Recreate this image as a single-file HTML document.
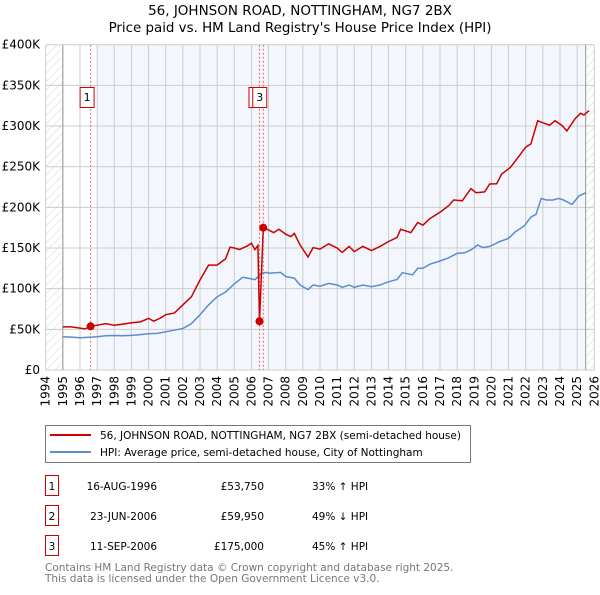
<!DOCTYPE html>
<html><head><meta charset="utf-8"><style>
body{margin:0;background:#fff;}
svg text{font-family:"DejaVu Sans","Liberation Sans",sans-serif;}
</style></head><body>
<svg id="chart" width="600" height="590" viewBox="0 0 600 590" xmlns="http://www.w3.org/2000/svg">
<defs>
<pattern id="hatch" width="6" height="6" patternUnits="userSpaceOnUse" patternTransform="rotate(45)">
<line x1="0" y1="0" x2="0" y2="6" stroke="#d4d4d4" stroke-width="1"/>
</pattern>
</defs>
<text x="300" y="15" text-anchor="middle" font-size="13.5" fill="#000">56, JOHNSON ROAD, NOTTINGHAM, NG7 2BX</text>
<text x="300" y="32" text-anchor="middle" font-size="13.4" fill="#000">Price paid vs. HM Land Registry's House Price Index (HPI)</text>
<g id="plot"></g>
<g id="legend">
<rect x="45.5" y="425.5" width="425" height="37" fill="#fff" stroke="#777"/>
<line x1="50" y1="435" x2="91" y2="435" stroke="#cc0000" stroke-width="2"/>
<text x="100" y="439" font-size="10.5">56, JOHNSON ROAD, NOTTINGHAM, NG7 2BX (semi-detached house)</text>
<line x1="50" y1="452" x2="91" y2="452" stroke="#5b8bd0" stroke-width="2"/>
<text x="100" y="456" font-size="10.5">HPI: Average price, semi-detached house, City of Nottingham</text>
</g>
<g id="table">
<rect x="45.5" y="475.5" width="13" height="20" fill="#fff" stroke="#cc0000"/>
<text x="52" y="490" font-size="10.5" text-anchor="middle">1</text>
<text x="157" y="490" font-size="10.5" text-anchor="end">16-AUG-1996</text>
<text x="264" y="490" font-size="10.5" text-anchor="end">£53,750</text>
<text x="312" y="490" font-size="10.5">33% ↑ HPI</text>
<rect x="45.5" y="505.5" width="13" height="20" fill="#fff" stroke="#cc0000"/>
<text x="52" y="520" font-size="10.5" text-anchor="middle">2</text>
<text x="157" y="520" font-size="10.5" text-anchor="end">23-JUN-2006</text>
<text x="264" y="520" font-size="10.5" text-anchor="end">£59,950</text>
<text x="312" y="520" font-size="10.5">49% ↓ HPI</text>
<rect x="45.5" y="535.5" width="13" height="20" fill="#fff" stroke="#cc0000"/>
<text x="52" y="550" font-size="10.5" text-anchor="middle">3</text>
<text x="157" y="550" font-size="10.5" text-anchor="end">11-SEP-2006</text>
<text x="264" y="550" font-size="10.5" text-anchor="end">£175,000</text>
<text x="312" y="550" font-size="10.5">45% ↑ HPI</text>
</g>
<text x="45" y="571" font-size="10.5" fill="#777">Contains HM Land Registry data © Crown copyright and database right 2025.</text>
<text x="45" y="582" font-size="10.5" fill="#777">This data is licensed under the Open Government Licence v3.0.</text>
</svg>
<script>
const yTicks=[0,50000,100000,150000,200000,250000,300000,350000,400000];
const yTickLabels=["£0","£50K","£100K","£150K","£200K","£250K","£300K","£350K","£400K"];
const xTicks=[1994,1995,1996,1997,1998,1999,2000,2001,2002,2003,2004,2005,2006,2007,2008,2009,2010,2011,2012,2013,2014,2015,2016,2017,2018,2019,2020,2021,2022,2023,2024,2025,2026];
const hpiYears=[1995,1995.5,1996,1996.5,1997,1997.5,1998,1998.5,1999,1999.5,2000,2000.5,2001,2001.5,2002,2002.5,2003,2003.5,2004,2004.5,2005,2005.5,2006,2006.2,2006.6,2006.9,2007,2007.7,2008,2008.5,2008.84,2009.3,2009.6,2010,2010.5,2011,2011.3,2011.7,2012,2012.5,2013,2013.5,2014,2014.5,2014.8,2015.4,2015.7,2016,2016.4,2017,2017.5,2018,2018.4,2018.8,2019.2,2019.5,2019.9,2020.5,2021,2021.4,2021.9,2022.3,2022.6,2022.9,2023.2,2023.6,2023.9,2024.2,2024.7,2025.1,2025.5];
const hpiValues=[41000,40500,39600,40200,40800,42000,42400,42000,42500,43500,44500,45000,47000,49000,51000,57000,68000,80000,90000,96000,106000,114000,112000,111000,119000,120000,119000,120000,115000,113000,104500,98900,104500,103000,106500,104500,101700,104500,101700,104500,102400,104500,108500,111300,119700,117000,125000,125000,130000,134000,138000,143400,144000,147500,153700,150500,152000,158000,162000,170000,177000,188000,191500,211000,209000,209000,211000,209000,203600,214000,218000];
const saleYears=[1996.62,2006.47,2006.69];
const salePrices=[53750,59950,175000];
const saleLabels=["1","2","3"];
const redYears=[1995,1995.5,1996,1996.3,1996.62,1997,1997.5,1998,1998.5,1999,1999.5,2000,2000.3,2000.7,2001,2001.5,2002,2002.5,2003,2003.5,2004,2004.5,2004.75,2005,2005.3,2005.8,2006,2006.2,2006.38,2006.47,2006.69,2007,2007.3,2007.6,2008,2008.3,2008.5,2008.84,2009.3,2009.6,2010,2010.5,2011,2011.3,2011.7,2012,2012.5,2013,2013.5,2014,2014.5,2014.7,2015.3,2015.7,2016,2016.4,2017,2017.5,2017.8,2018.3,2018.8,2019.1,2019.6,2019.9,2020.3,2020.6,2021.1,2021.5,2022,2022.3,2022.7,2023,2023.4,2023.7,2024.1,2024.4,2024.9,2025.2,2025.4,2025.7];
const redValues=[53000,53000,51500,50500,53750,55000,57000,55000,56500,58000,59000,63500,60000,64000,68000,70000,80000,90000,110700,129000,129000,137000,151000,150000,148000,153000,156000,148000,153000,59950,175000,172000,169000,173000,167000,164000,168000,153700,139000,150500,148700,155000,150000,144600,152000,145600,152000,147000,152000,158000,163000,173000,169000,181400,178000,186000,194000,202000,209000,208000,223000,218000,219000,228700,229000,241000,249000,260000,274000,278000,306600,304000,301000,306600,301000,294000,309500,315600,313500,319000];

const NS="http://www.w3.org/2000/svg";
const L=45.7,R=594.3,T=44.7,B=370;
function xs(y){return L+(y-1994)*(R-L)/32;}
function ys(v){return B-v*(B-T)/400000;}
const g=document.getElementById('plot');
function mk(tag,attrs,parent){const e=document.createElementNS(NS,tag);for(const k in attrs)e.setAttribute(k,attrs[k]);(parent||g).appendChild(e);return e;}
let e=mk('rect',{x:L,y:T,width:R-L+1,height:B-T,fill:'#fff'});


e=mk('rect',{x:97,y:T,width:585.7-97,height:B-T,fill:'#f3f7fd'});


e=mk('rect',{x:L,y:T,width:xs(1995)-L,height:B-T,fill:'url(#hatch)'});


e=mk('rect',{x:585.7,y:T,width:R+1-585.7,height:B-T,fill:'url(#hatch)'});


yTicks.forEach((v,i)=>{
 const l=mk('line',{x1:L,x2:R,y1:ys(v),y2:ys(v),stroke:'#cccccc','stroke-width':1});
 
 
 const t=mk('text',{x:40,y:ys(v)+4,'text-anchor':'end','font-size':12});
 t.textContent=yTickLabels[i];
 
 
});
xTicks.forEach(yr=>{
 const l=mk('line',{x1:xs(yr),x2:xs(yr),y1:T,y2:B,stroke:'#cccccc','stroke-width':1});
 
 
 const t=mk('text',{x:0,y:0,'text-anchor':'end','font-size':12,transform:`translate(${xs(yr)+4},376) rotate(-90)`});
 t.textContent=yr;
 
 
});
e=mk('line',{x1:xs(1995),x2:xs(1995),y1:T,y2:B,stroke:'#999'});


e=mk('line',{x1:585.7,x2:585.7,y1:T,y2:B,stroke:'#999'});


saleYears.forEach(yr=>{
 const l=mk('line',{x1:xs(yr),x2:xs(yr),y1:T,y2:B,stroke:'#ee6666','stroke-dasharray':'2,2','stroke-width':1});
 
 
});
function path(xsArr,vs){return xsArr.map((y,i)=>(i?'L':'M')+xs(y).toFixed(1)+','+ys(vs[i]).toFixed(1)).join('');}
e=mk('path',{d:path(hpiYears,hpiValues),fill:'none',stroke:'#5b8bd0','stroke-width':1.5});


e=mk('path',{d:path(redYears,redValues),fill:'none',stroke:'#cc0000','stroke-width':1.5});


saleYears.forEach((yr,i)=>{
 const c=mk('circle',{cx:xs(yr),cy:ys(salePrices[i]),r:4,fill:'#cc0000'});
 
 
});
saleYears.forEach((yr,i)=>{
 const x=xs(yr)-10;
 const r=mk('rect',{x:x-0.5,y:87.5,width:14,height:20,fill:'#fff',stroke:'#cc0000'});
 
 
 const t=mk('text',{x:x+6.5,y:101,'text-anchor':'middle','font-size':11});
 t.textContent=saleLabels[i];
 
 
});
</script>
</body></html>
